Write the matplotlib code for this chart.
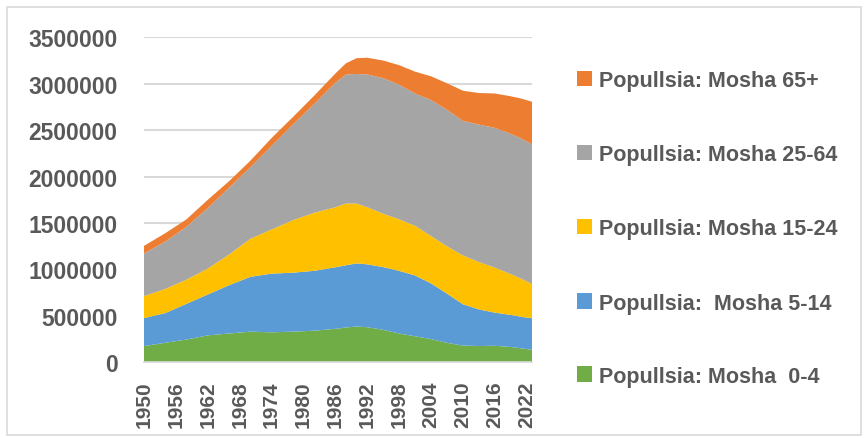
import matplotlib
matplotlib.use("Agg")
import matplotlib.pyplot as plt
from matplotlib.patches import Rectangle

years = [1950, 1954, 1958, 1962, 1966, 1970, 1974, 1978, 1982, 1986, 1988, 1990,
         1992, 1995, 1998, 2001, 2004, 2007, 2010, 2013, 2016, 2019, 2021, 2023]

age_0_4 = [175000, 210000, 245000, 290000, 310000, 330000, 323000, 330000, 340000, 360000,
           375000, 385000, 378000, 350000, 310000, 280000, 250000, 210000, 180000, 175000,
           178000, 165000, 150000, 135000]
age_5_14 = [301000, 320000, 385000, 440000, 520000, 590000, 632000, 635000, 645000, 663000,
            670000, 680000, 677000, 675000, 675000, 655000, 600000, 530000, 445000, 395000,
            357000, 345000, 340000, 339000]
age_15_24 = [237000, 260000, 260000, 280000, 330000, 410000, 475000, 565000, 625000, 647000,
             665000, 645000, 615000, 575000, 555000, 535000, 510000, 510000, 525000, 510000,
             485000, 440000, 410000, 369000]
age_25_64 = [458000, 510000, 570000, 650000, 720000, 770000, 900000, 1030000, 1170000, 1340000,
             1390000, 1395000, 1430000, 1460000, 1450000, 1425000, 1465000, 1470000, 1450000,
             1480000, 1505000, 1510000, 1510000, 1504000]
age_65 = [83000, 90000, 80000, 90000, 70000, 70000, 85000, 80000, 90000, 100000,
          120000, 170000, 180000, 190000, 210000, 235000, 255000, 285000, 325000, 340000,
          370000, 405000, 430000, 459000]

labels = ["Popullsia: Mosha  0-4", "Popullsia:  Mosha 5-14", "Popullsia: Mosha 15-24",
          "Popullsia: Mosha 25-64", "Popullsia: Mosha 65+"]
colors = ["#70AD47", "#5B9BD5", "#FFC000", "#A5A5A5", "#ED7D31"]
yticks = [0, 500000, 1000000, 1500000, 2000000, 2500000, 3000000, 3500000]
xticks = list(range(1950, 2023, 6))

W, H = 866, 439
fig = plt.figure(figsize=(W / 100, H / 100), dpi=100)
fig.patch.set_facecolor("white")
fig.patches.append(Rectangle((7 / W, 3 / H), 854 / W, 428 / H, transform=fig.transFigure,
                             fill=False, edgecolor="#d9d9d9", linewidth=1.2))

left, right = 144, 532
bottom, top = 363.3, 38.3
ax = fig.add_axes([left / W, 1 - bottom / H, (right - left) / W, (bottom - top) / H])

ax.stackplot(years, age_0_4, age_5_14, age_15_24, age_25_64, age_65,
             colors=colors, labels=labels, linewidth=0, zorder=2)

ax.set_xlim(1950, 2023)
ax.set_ylim(0, 3500000)
ax.set_yticks(yticks)
ax.set_yticklabels([str(v) for v in yticks])
ax.set_xticks(xticks)
ax.set_xticklabels([str(v) for v in xticks], rotation=90)

for s in ["top", "right", "left"]:
    ax.spines[s].set_visible(False)
ax.spines["bottom"].set_color("#d9d9d9")
ax.spines["bottom"].set_linewidth(1.2)
ax.spines["bottom"].set_zorder(3)
ax.grid(axis="y", color="#d9d9d9", linewidth=1.5, zorder=0)
ax.set_axisbelow(True)
ax.tick_params(axis="both", length=0)
ax.tick_params(axis="y", pad=19)
ax.tick_params(axis="x", pad=13)
for t in ax.get_yticklabels():
    t.set_fontfamily("Liberation Sans")
    t.set_fontweight("bold")
    t.set_fontsize(16.5)
    t.set_color("#595959")
for t in ax.get_xticklabels():
    t.set_fontfamily("Liberation Sans")
    t.set_fontweight("bold")
    t.set_fontsize(15)
    t.set_color("#595959")

# legend (drawn manually, top entry = last series)
row_y = [375, 301.7, 227.3, 153.3, 79.3]
sq = 15.6
for lab, col, yc in zip(labels, colors, row_y):
    fig.patches.append(Rectangle((576.7 / W, 1 - (yc + sq / 2) / H), sq / W, sq / H,
                                 transform=fig.transFigure, facecolor=col, edgecolor="none"))
    fig.text(599 / W, 1 - yc / H, lab, ha="left", va="center_baseline",
             fontfamily="Liberation Sans", fontweight="bold", fontsize=15.5, color="#595959")

fig.savefig("out.png", dpi=100)
